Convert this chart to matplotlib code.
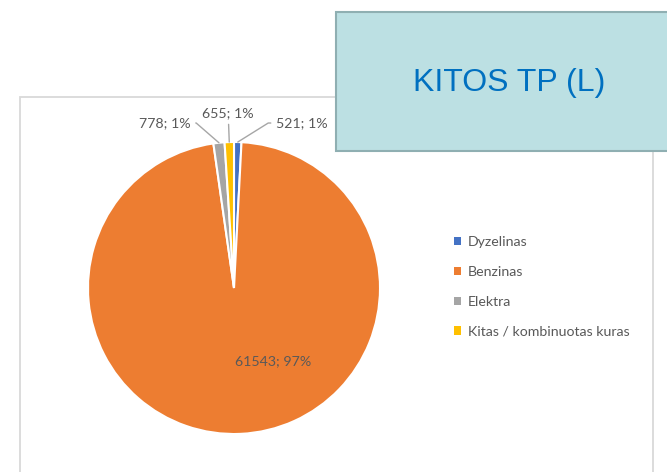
import numpy as np
import matplotlib.pyplot as plt
from matplotlib.patches import Rectangle, Patch

labels = ["Dyzelinas", "Benzinas", "Elektra", "Kitas / kombinuotas kuras"]
values = [521, 61543, 778, 655]
colors = ["#4472C4", "#ED7D31", "#A5A5A5", "#FFC000"]
title = "KITOS TP (L)"

W, H = 667, 472
fig = plt.figure(figsize=(W / 100, H / 100), dpi=100)
fig.patch.set_facecolor("white")

def fx(px):
    return px / W

def fy(py):
    return 1 - py / H

# chart frame
fig.patches.append(Rectangle((fx(20), fy(480)), fx(653) - fx(20), fy(97) - fy(480),
                             transform=fig.transFigure, fill=False,
                             edgecolor="#D9D9D9", lw=1.3, zorder=0))

# pie
cx, cy, r = 234, 288, 146
ax = fig.add_axes([fx(cx - r), fy(cy + r), 2 * r / W, 2 * r / H])
wedges, _ = ax.pie(values, colors=colors, startangle=90, counterclock=False,
                   wedgeprops=dict(edgecolor="white", linewidth=1.5))
ax.set_xlim(-1, 1)
ax.set_ylim(-1, 1)
ax.axis("off")

total = sum(values)
pct = [round(v / total * 100) for v in values]
txt_color = "#595959"
fs = 10.2

# big slice label inside
ax.text(0.27, -0.5, f"{values[1]}; {pct[1]}%", ha="center", va="center",
        color=txt_color, fontsize=fs, family="Lato")

# small slices with leader lines
offsets = {0: (0.29, 1.13, "left", "angle,angleA=0,angleB=32"),
           2: (-0.30, 1.13, "right", "angle,angleA=0,angleB=139"),
           3: (-0.04, 1.20, "center", "arc3")}
for i, (tx, ty, ha, cs) in offsets.items():
    w = wedges[i]
    mid = np.deg2rad((w.theta1 + w.theta2) / 2)
    px, py = np.cos(mid), np.sin(mid)
    ax.annotate(f"{values[i]}; {pct[i]}%", xy=(px, py), xytext=(tx, ty),
                ha=ha, va="center", color=txt_color, fontsize=fs, family="Lato",
                annotation_clip=False,
                arrowprops=dict(arrowstyle="-", color="#A6A6A6", lw=1,
                                connectionstyle=cs, shrinkA=2, shrinkB=0))

# legend
handles = [Patch(facecolor=c, edgecolor="none") for c in colors]
leg = fig.legend(handles, labels, loc="center left",
                 bbox_to_anchor=(fx(441), fy(287)), frameon=False,
                 handlelength=0.5, handleheight=0.5, handletextpad=0.5,
                 labelspacing=1.25, prop={"family": "Lato", "size": 10.2})
for t in leg.get_texts():
    t.set_color(txt_color)

# title box
fig.patches.append(Rectangle((fx(336), fy(151)), fx(700) - fx(336), fy(12) - fy(151),
                             transform=fig.transFigure, facecolor="#BCE0E3",
                             edgecolor="#8FAFB2", lw=1.5, zorder=5))
fig.text(fx(509), fy(83), title, ha="center", va="center", color="#0070C0",
         fontsize=23, family="Liberation Sans", zorder=6)

fig.savefig("out.png", dpi=100)
